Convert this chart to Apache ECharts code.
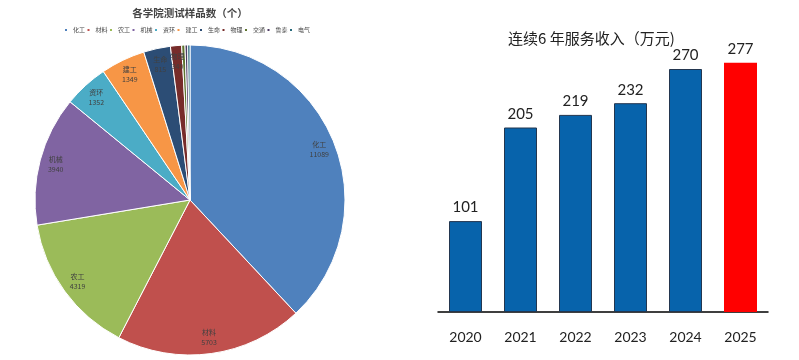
<!DOCTYPE html>
<html><head><meta charset="utf-8">
<script src="https://cdn.jsdelivr.net/npm/echarts@6/dist/echarts.min.js"></script>
<style>html,body{margin:0;padding:0;background:#fff}#c{width:799px;height:360px}</style>
</head><body><div id="c"></div>
<script>
const pieNames = ['化工','材料','农工','机械','资环','建工','生命','物理','交通','鲁泰','电气'];
const pieValues = [11089,5703,4319,3940,1352,1349,815,340,100,80,70];
const pieColors = ['#4F81BD','#C0504D','#9BBB59','#8064A2','#4BACC6','#F79646','#2C4D75','#772C2A','#5F7530','#4D3B62','#276A7C'];
const years = ['2020','2021','2022','2023','2024','2025'];
const income = [101,205,219,232,270,277];

const pieData = pieNames.map((n,i)=>({name:n,value:pieValues[i],itemStyle:{color:pieColors[i]}}));
const labelData = pieNames.map((n,i)=>({name:n,value:pieValues[i]}));
const barData = income.map((v,i)=>({
  value:v,
  itemStyle: i===income.length-1 ? {color:'#FF0000',borderWidth:0} : {color:'#0763AB',borderColor:'#23364f',borderWidth:1}
}));

const chart = echarts.init(document.getElementById('c'));
chart.setOption({
  animation:false,
  title:[
    {text:'各学院测试样品数（个）',left:185,top:3,textAlign:'center',
     textStyle:{fontFamily:'Noto Sans CJK SC',fontSize:10.5,fontWeight:'bold',color:'#444'}},
    {text:'连续6 年服务收入（万元)',left:503,top:26,
     textStyle:{fontFamily:'Noto Sans CJK SC',fontSize:15,fontWeight:'normal',color:'#222'}}
  ],
  legend:{
    data:pieNames,left:63,top:27,padding:0,itemWidth:4,itemHeight:4,itemGap:0.5,icon:'rect',
    textStyle:{fontSize:6,color:'#444',fontFamily:'Noto Sans CJK SC'}
  },
  grid:{left:438,right:31,top:42,bottom:48},
  xAxis:{type:'category',data:years,
    axisLine:{lineStyle:{color:'#000',width:1.5}},
    axisTick:{alignWithLabel:true,length:4,lineStyle:{color:'#000',width:1.5}},
    axisLabel:{margin:18,fontSize:14,color:'#222',fontFamily:'Lato'}},
  yAxis:{type:'value',min:0,max:300,show:false,splitLine:{show:false}},
  series:[
    {type:'pie',center:[190,200],radius:[0,155],startAngle:90,clockwise:true,
     data:pieData,label:{show:false},labelLine:{show:false},
     itemStyle:{borderColor:'#fff',borderWidth:1},emphasis:{disabled:true}},
    {type:'pie',center:[190,200],radius:[117,155],startAngle:90,clockwise:true,silent:true,
     data:labelData,itemStyle:{color:'rgba(0,0,0,0)'},labelLine:{show:false},
     label:{show:true,position:'inside',formatter:'{b}\n{c}',fontSize:7,lineHeight:10,color:'#404040',fontFamily:'Noto Sans CJK SC'},
     emphasis:{disabled:true}},
    {type:'bar',data:barData,barWidth:'60%',
     label:{show:true,position:'top',distance:6,fontSize:15,color:'#222',fontFamily:'Lato'}}
  ]
});
</script></body></html>
